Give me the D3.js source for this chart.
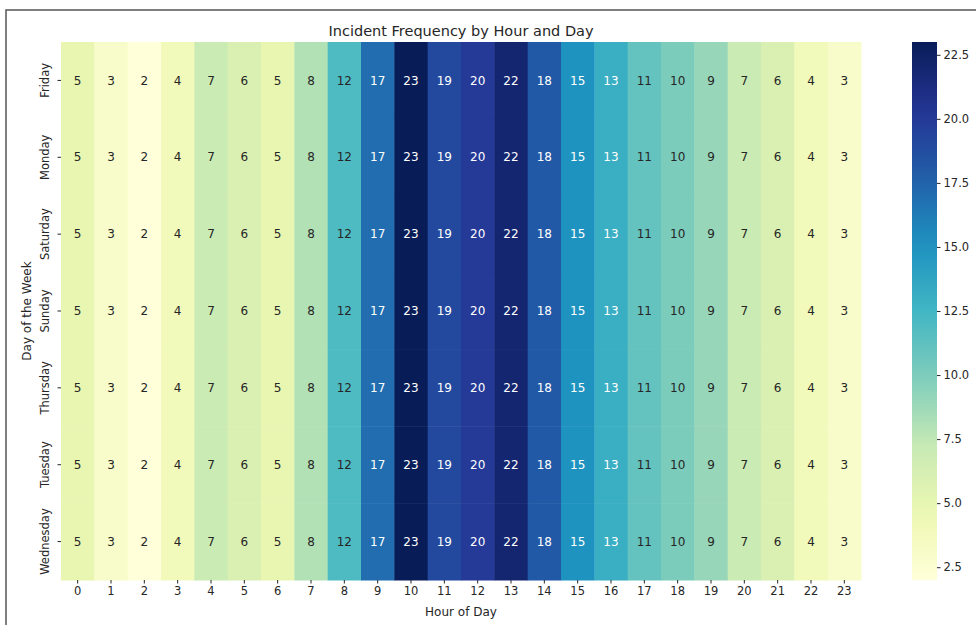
<!DOCTYPE html>
<html>
<head>
<meta charset="utf-8">
<script src="https://cdn.jsdelivr.net/npm/d3@7"></script>
<style>
  body { margin: 0; background: #fff; }
  svg { display: block; font-family: "DejaVu Sans", sans-serif; }
</style>
</head>
<body>
<svg id="chart" width="976" height="625"></svg>
<script>
// data
const days = ["Friday", "Monday", "Saturday", "Sunday", "Thursday", "Tuesday", "Wednesday"];
const hours = d3.range(24);
const hourlyCounts = [5, 3, 2, 4, 7, 6, 5, 8, 12, 17, 23, 19, 20, 22, 18, 15, 13, 11, 10, 9, 7, 6, 4, 3];
const cbarTicks = [2.5, 5, 7.5, 10, 12.5, 15, 17.5, 20, 22.5];

const margin = {top: 42, left: 61};
const width = 800, height = 538;

const svg = d3.select("#chart");

// screenshot frame
svg.append("path")
    .attr("d", "M6,640 L6,10 L990,10")
    .attr("fill", "none")
    .attr("stroke", "#555")
    .attr("stroke-width", 1.5);

const cells = [];
days.forEach(d => hours.forEach(h => cells.push({day: d, hour: h, value: hourlyCounts[h]})));

const vmin = d3.min(hourlyCounts), vmax = d3.max(hourlyCounts);
const stops = d3.schemeYlGnBu[9];
const ramp = d3.scaleLinear()
    .domain(stops.map((c, i) => i / (stops.length - 1)))
    .range(stops)
    .interpolate(d3.interpolateRgb);
// 256-entry lookup like matplotlib
const color = v => {
    let i = Math.floor((v - vmin) / (vmax - vmin) * 256);
    i = Math.max(0, Math.min(255, i));
    return ramp(i / 255);
};

const x = d3.scaleBand().domain(hours).range([0, width]);
const y = d3.scaleBand().domain(days).range([0, height]);

const g = svg.append("g").attr("transform", "translate(" + margin.left + "," + margin.top + ")");

g.selectAll("rect.cell")
    .data(cells)
    .enter()
    .append("rect")
    .attr("class", "cell")
    .attr("x", d => x(d.hour))
    .attr("y", d => y(d.day))
    .attr("width", x.bandwidth() + 0.5)
    .attr("height", y.bandwidth() + 0.5)
    .attr("fill", d => color(d.value));

// seaborn-like text colour choice
function luminance(c) {
    const rgb = d3.rgb(c);
    const lin = v => { v /= 255; return v <= 0.03928 ? v / 12.92 : Math.pow((v + 0.055) / 1.055, 2.4); };
    return 0.2126 * lin(rgb.r) + 0.7152 * lin(rgb.g) + 0.0722 * lin(rgb.b);
}

g.selectAll("text.annot")
    .data(cells)
    .enter()
    .append("text")
    .attr("class", "annot")
    .attr("x", d => x(d.hour) + x.bandwidth() / 2)
    .attr("y", d => y(d.day) + y.bandwidth() / 2)
    .attr("dy", "0.35em")
    .attr("text-anchor", "middle")
    .attr("font-size", "12px")
    .attr("fill", d => luminance(color(d.value)) > 0.408 ? "#262626" : "#ffffff")
    .text(d => d.value);

// axes
const xAxis = g.append("g")
    .attr("transform", "translate(0," + height + ")")
    .call(d3.axisBottom(x).tickSize(3.5).tickPadding(3));
const yAxis = g.append("g")
    .call(d3.axisLeft(y).tickSize(3.5).tickPadding(3));

[xAxis, yAxis].forEach(a => {
    a.select(".domain").remove();
    a.selectAll(".tick line").attr("stroke", "#262626");
    a.selectAll(".tick text").attr("fill", "#262626").attr("font-size", "11.5px").attr("font-family", "DejaVu Sans, sans-serif");
});

yAxis.selectAll(".tick text")
    .attr("text-anchor", "middle")
    .attr("x", 0)
    .attr("dy", 0)
    .attr("transform", "translate(-12,0) rotate(-90)");

g.append("text")
    .attr("x", width / 2)
    .attr("y", -6)
    .attr("text-anchor", "middle")
    .attr("font-size", "14.5px")
    .attr("fill", "#262626")
    .text("Incident Frequency by Hour and Day");

g.append("text")
    .attr("x", width / 2)
    .attr("y", height + 36)
    .attr("text-anchor", "middle")
    .attr("font-size", "12px")
    .attr("fill", "#262626")
    .text("Hour of Day");

g.append("text")
    .attr("transform", "translate(-30," + (height / 2) + ") rotate(-90)")
    .attr("text-anchor", "middle")
    .attr("font-size", "12px")
    .attr("fill", "#262626")
    .text("Day of the Week");

// colour bar
const cbX = 912, cbW = 25;
const cbScale = d3.scaleLinear().domain([vmin, vmax]).range([margin.top + height, margin.top]);

const grad = svg.append("defs").append("linearGradient")
    .attr("id", "cbgrad")
    .attr("x1", 0).attr("y1", 1).attr("x2", 0).attr("y2", 0);
d3.range(0, 1.0001, 0.05).forEach(t => {
    grad.append("stop")
        .attr("offset", t)
        .attr("stop-color", ramp(t));
});

svg.append("rect")
    .attr("x", cbX)
    .attr("y", margin.top)
    .attr("width", cbW)
    .attr("height", height)
    .attr("fill", "url(#cbgrad)");

const cbAxis = svg.append("g")
    .attr("transform", "translate(" + (cbX + cbW) + ",0)")
    .call(d3.axisRight(cbScale).tickValues(cbarTicks).tickFormat(d3.format(".1f")).tickSize(3.5).tickPadding(3));
cbAxis.select(".domain").remove();
cbAxis.selectAll(".tick line").attr("stroke", "#262626");
cbAxis.selectAll(".tick text").attr("fill", "#262626").attr("font-size", "11.5px").attr("font-family", "DejaVu Sans, sans-serif");
</script>
</body>
</html>
